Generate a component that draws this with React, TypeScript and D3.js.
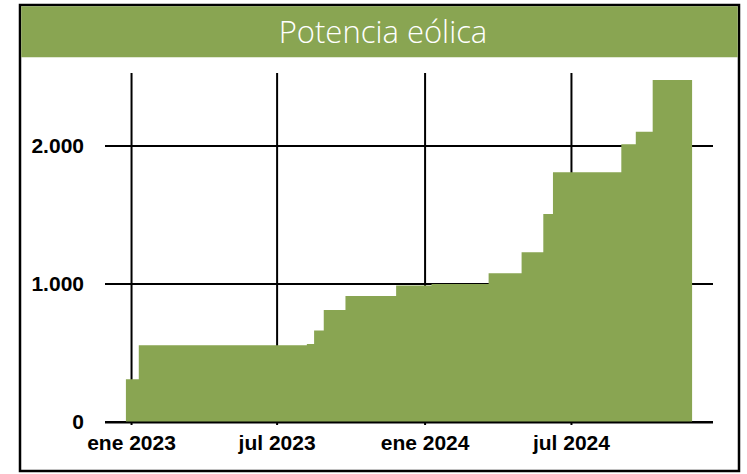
import React from "react";
import * as d3 from "d3";

const stepDates = [
  "2022-12-25", "2023-01-10", "2023-08-07", "2023-08-16", "2023-08-28", "2023-09-24",
  "2023-11-26", "2024-01-09", "2024-03-20", "2024-04-30", "2024-05-27", "2024-06-08",
  "2024-09-01", "2024-09-19", "2024-10-10", "2024-11-28",
];
const stepValues = [
  309, 556, 565, 663, 812, 913,
  989, 1000, 1078, 1230, 1507, 1809,
  2012, 2104, 2478, 2478,
];
const xTickDates = ["2023-01-01", "2023-07-01", "2024-01-01", "2024-07-01"];
const xTickLabels = ["ene 2023", "jul 2023", "ene 2024", "jul 2024"];
const yTicks = [0, 1000, 2000];
const yTickLabels = ["0", "1.000", "2.000"];
const title = "Potencia eólica";

const W = 747;
const H = 474;
const GREEN = "#89a552";

const parse = d3.timeParse("%Y-%m-%d");

export default function App() {
  const x = d3
    .scaleTime()
    .domain([parse("2022-11-29")!, parse("2024-12-24")!])
    .range([105, 713]);
  const y = d3.scaleLinear().domain([0, 2500]).range([422, 77]);

  const data = stepDates.map((d, i) => ({ date: parse(d)!, value: stepValues[i] }));
  const area = d3
    .area<{ date: Date; value: number }>()
    .x((d) => x(d.date))
    .y0(y(0))
    .y1((d) => y(d.value))
    .curve(d3.curveStepAfter);

  const x0 = x.range()[0];
  const x1 = x.range()[1];

  return (
    <svg
      width={W}
      height={H}
      style={{ position: "absolute", left: 0, top: 0, background: "#fff" }}
    >
      <rect x={20} y={5} width={719} height={466} fill="#fff" stroke="#000" strokeWidth={2.5} />
      <rect x={21.25} y={6.25} width={716.5} height={51} fill={GREEN} />
      <text
        x={383}
        y={43}
        textAnchor="middle"
        fill="#fff"
        fontFamily="'Open Sans', sans-serif"
        fontWeight={300}
        fontSize={31}
      >
        {title}
      </text>

      {/* horizontal gridlines */}
      {yTicks.map((t) => (
        <line key={"h" + t} x1={x0} x2={x1} y1={y(t)} y2={y(t)} stroke="#000" strokeWidth={2} />
      ))}
      {/* vertical gridlines */}
      {xTickDates.map((d) => (
        <line
          key={"v" + d}
          x1={x(parse(d)!)}
          x2={x(parse(d)!)}
          y1={73}
          y2={y(0) + 3}
          stroke="#000"
          strokeWidth={2}
        />
      ))}

      <path d={area(data) || ""} fill={GREEN} />

      {/* baseline */}
      <line x1={x0} x2={x1} y1={y(0) + 0.5} y2={y(0) + 0.5} stroke="#000" strokeWidth={2} />

      {yTicks.map((t, i) => (
        <text
          key={"yl" + t}
          x={84}
          y={y(t)}
          dy="0.35em"
          textAnchor="end"
          fontFamily="'Liberation Sans', Arial, sans-serif"
          fontWeight="bold"
          fontSize={21}
          fill="#000"
        >
          {yTickLabels[i]}
        </text>
      ))}
      {xTickDates.map((d, i) => (
        <text
          key={"xl" + d}
          x={x(parse(d)!)}
          y={450}
          textAnchor="middle"
          fontFamily="'Liberation Sans', Arial, sans-serif"
          fontWeight="bold"
          fontSize={21}
          fill="#000"
        >
          {xTickLabels[i]}
        </text>
      ))}
    </svg>
  );
}
